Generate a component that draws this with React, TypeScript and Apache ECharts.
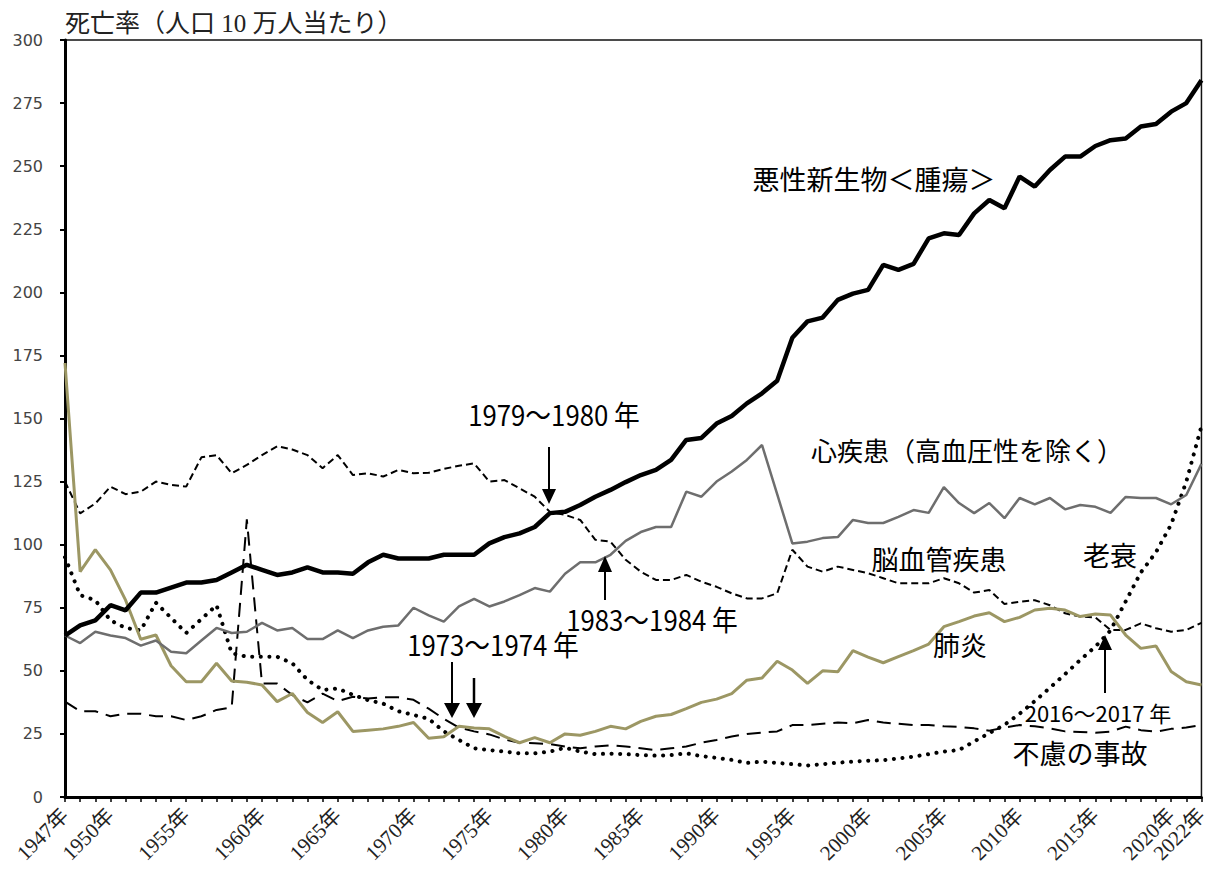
import React, { useEffect, useRef } from "react";
import * as echarts from "echarts";

// ---- categories (1947..2022) ----
const years: string[] = [];
for (let y = 1947; y <= 2022; y++) years.push(String(y));

const labelYears = ["1947", "1950", "1955", "1960", "1965", "1970", "1975", "1980", "1985", "1990", "1995", "2000", "2005", "2010", "2015", "2020", "2022"];

// ---- series values (per 100k) ----
const cancer = [
  64, 68, 70, 76, 74, 81, 81, 83, 85, 85,
  86, 89, 92, 90, 88, 89, 91, 89, 89, 88.5,
  93, 96, 94.5, 94.5, 94.5, 96, 96, 96, 100.5, 103,
  104.5, 107, 112.5, 113, 115.7, 119, 121.7, 124.8, 127.6, 129.6,
  133.6, 141.5, 142.3, 148, 151, 156, 160, 165, 182, 188.5,
  190, 197, 199.5, 201, 210.9, 208.9, 211.3, 221.4, 223.4, 222.7,
  231.3, 236.6, 233.3, 245.9, 241.9, 248.5, 253.8, 253.8, 258, 260.3,
  261, 265.7, 266.7, 271.6, 275, 284,
];

const heart = [
  64, 61, 65.5, 64, 63, 60, 62, 57.6, 57, 62,
  67, 65, 65.5, 69, 66, 67, 62.6, 62.6, 66, 63,
  66, 67.5, 68, 75, 72, 69.5, 75.5, 78.5, 75.5, 77.5,
  80, 82.8, 81.4, 88.5, 93, 93, 96, 101.5, 105, 107,
  107, 121, 119, 125, 129, 133.6, 139.5, 120, 100.5, 101.2,
  102.6, 103, 109.8, 108.6, 108.6, 111, 113.7, 112.6, 122.8, 116.5,
  112.5, 116.5, 110.5, 118.5, 116, 118.5, 114, 115.7, 115, 112.6,
  118.9, 118.5, 118.5, 116, 119.7, 132,
];

const cerebro = [
  125, 112.4, 116.3, 123, 120, 121, 125, 123.7, 123, 134.6,
  135.5, 128.3, 131.6, 135.5, 139, 137.7, 135.5, 130.3, 135.5, 127.6,
  128.3, 127, 129.6, 128.3, 128.5, 130, 131.3, 132.2, 125, 125.6,
  122.3, 119, 113, 111.8, 109.8, 101.9, 101.2, 94, 89.3, 86,
  86, 88, 85.3, 83.3, 80.7, 78.7, 78.7, 80.7, 98, 91.3,
  89.3, 91.3, 90, 88.7, 86.7, 84.7, 84.7, 84.7, 86.7, 84.7,
  81, 82, 76.5, 77.4, 78, 76, 72.8, 71.5, 71.2, 66.2,
  66.2, 68.8, 66.9, 65.5, 66.2, 69,
];

const pneumonia = [
  172, 89.3, 98, 90, 78, 62.5, 64.2, 52, 45.7, 45.7,
  53, 46, 45.5, 44.4, 37.8, 41, 33.5, 29.5, 33.8, 26,
  26.5, 27, 28, 29.5, 23.3, 23.9, 28, 27.3, 27, 24,
  21.5, 23.5, 21.5, 25, 24.5, 26, 28, 27, 30, 32,
  32.7, 35, 37.5, 38.8, 41, 46.3, 47.2, 53.8, 50.3, 45,
  50, 49.6, 58, 55.4, 53.2, 55.6, 58, 60.6, 67.5, 69.5,
  71.7, 73, 69.5, 71.2, 74.1, 74.8, 74.1, 71.5, 72.5, 72.1,
  64.2, 58.9, 59.8, 49.7, 45.7, 44.4,
];

const senility = [
  95, 80, 78, 70, 67, 66, 77, 71, 65, 70.5,
  76, 57, 55.6, 55.6, 55.6, 53, 46.4, 42.4, 43, 40.5,
  38.4, 37, 34, 32.5, 31, 26, 22.6, 19.3, 18.6, 18,
  17.3, 17.3, 18, 19.5, 18, 17, 17.2, 17, 16.6, 16.4,
  16.6, 17.3, 16.2, 15.5, 14.7, 13.5, 14, 13.5, 13, 12.5,
  13, 13.6, 14, 14.4, 14.6, 15.3, 16, 17, 18, 18.6,
  22, 25.3, 28.6, 33, 38, 43.3, 48.7, 54.3, 59.6, 66,
  77.5, 89, 97, 108, 125, 147,
];

const accident = [
  37.8, 34, 34, 32, 33, 33, 32, 32, 30.5, 32,
  34.5, 35.5, 110, 45, 45, 40.4, 37.5, 41, 38, 39.7,
  39, 39.5, 39.5, 38.5, 35, 31, 27.5, 26, 24.8, 22.8,
  21.5, 21.3, 21, 20, 19.3, 20, 20.5, 20, 19.3, 18.6,
  19.3, 20, 21.5, 22.6, 24, 25, 25.5, 26, 28.5, 28.5,
  29, 29.5, 29.2, 30.5, 29.5, 29, 28.5, 28.5, 28, 27.8,
  27.2, 26.3, 27.5, 28.5, 28, 27.2, 26, 25.8, 25.5, 25.9,
  27.9, 26.5, 25.9, 27, 27.5, 28.5,
];

const yTicks = { min: 0, max: 300, interval: 25 };

const JP = '"Noto Sans CJK JP", "Noto Sans", sans-serif';
const SERIF = '"Liberation Serif", "DejaVu Serif", "Noto Sans CJK JP", serif';

function txt(text: string, x: number, y: number, size: number, scaleX = 1) {
  return {
    type: "text",
    x,
    y,
    scaleX,
    style: { text, fontSize: size, fontFamily: JP, fill: "#000", align: "center", verticalAlign: "middle" },
    z: 100,
  };
}

function arrow(x: number, shaftStart: number, baseY: number, tipY: number, w = 7, lw = 2) {
  return [
    { type: "line", shape: { x1: x, y1: shaftStart, x2: x, y2: baseY }, style: { stroke: "#000", lineWidth: lw }, z: 100 },
    {
      type: "polygon",
      shape: { points: [[x - w, baseY], [x + w, baseY], [x, tipY]] },
      style: { fill: "#000" },
      z: 100,
    },
  ];
}

export default function App() {
  const ref = useRef<HTMLDivElement>(null);

  useEffect(() => {
    if (!ref.current) return;
    const chart = echarts.init(ref.current, undefined, { renderer: "svg" });

    const mk = (name: string, data: number[], lineStyle: any, z: number) => ({
      name,
      type: "line",
      data,
      showSymbol: false,
      symbol: "none",
      lineStyle,
      z,
      silent: true,
    });

    chart.setOption({
      animation: false,
      backgroundColor: "#fff",
      grid: { left: 65, right: 9, top: 40, bottom: 77, show: true, borderColor: "#111", borderWidth: 1.5 },
      xAxis: {
        type: "category",
        data: years,
        boundaryGap: false,
        axisLine: { lineStyle: { color: "#000", width: 3 } },
        axisTick: { show: true, interval: 0, length: 5, lineStyle: { color: "#000", width: 1.5 } },
        axisLabel: {
          interval: (_i: number, v: string) => labelYears.includes(v),
          formatter: (v: string) => v + "年",
          rotate: 45,
          margin: 15,
          fontSize: 21,
          fontFamily: SERIF,
          color: "#222",
          hideOverlap: false,
          showMinLabel: true,
          showMaxLabel: true,
        },
        splitLine: { show: false },
      },
      yAxis: {
        type: "value",
        min: yTicks.min,
        max: yTicks.max,
        interval: yTicks.interval,
        axisLine: { show: true, lineStyle: { color: "#000", width: 3 } },
        axisTick: { show: true, length: 5, lineStyle: { color: "#000", width: 2 } },
        axisLabel: { margin: 22, fontSize: 16, fontFamily: '"DejaVu Sans", sans-serif', color: "#444" },
        splitLine: { show: false },
      },
      title: {
        text: "死亡率（人口 10 万人当たり）",
        left: 60,
        top: 6,
        textStyle: { fontSize: 25, fontWeight: "normal", fontFamily: SERIF, color: "#222" },
      },
      series: [
        mk("不慮の事故", accident, { color: "#000", width: 2, type: [14, 8] }, 2),
        mk("老衰", senility, { color: "#000", width: 4, type: [0.1, 8.5], cap: "round" }, 2),
        mk("脳血管疾患", cerebro, { color: "#000", width: 2, type: [7, 4] }, 3),
        mk("肺炎", pneumonia, { color: "#9c9764", width: 3 }, 3),
        mk("心疾患", heart, { color: "#6e6e6e", width: 2.5 }, 4),
        mk("悪性新生物", cancer, { color: "#000", width: 4.5 }, 5),
      ],
      graphic: [
        txt("悪性新生物＜腫瘍＞", 874, 178, 27),
        txt("心疾患（高血圧性を除く）", 967, 449, 26),
        txt("脳血管疾患", 939, 558, 27),
        txt("老衰", 1110, 554, 27),
        txt("肺炎", 960, 644, 27),
        txt("不慮の事故", 1080, 752, 27),
        txt("1979～1980 年", 554, 414, 28, 0.92),
        txt("1983～1984 年", 652, 619, 28, 0.92),
        txt("1973～1974 年", 493, 644, 28, 0.92),
        txt("2016～2017 年", 1098, 712, 22),
        ...arrow(549, 447, 489, 504),
        ...arrow(605, 600, 572, 556),
        ...arrow(452, 662, 703, 718, 8),
        ...arrow(474, 678, 703, 718, 8, 2.5),
        ...arrow(1105, 693, 650, 635),
      ],
    });

    return () => chart.dispose();
  }, []);

  return (
    <div style={{ position: "fixed", left: 0, top: 0, width: 1211, height: 874, background: "#fff" }}>
      <div ref={ref} style={{ width: 1211, height: 874 }} />
    </div>
  );
}
